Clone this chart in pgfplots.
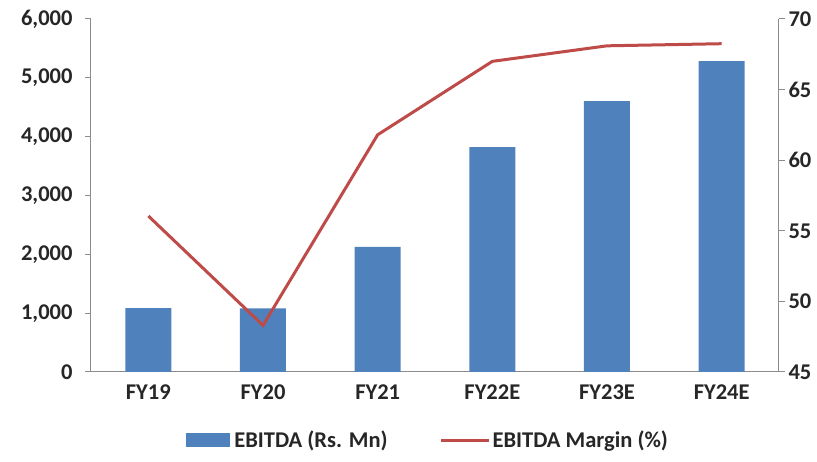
\documentclass[border=0pt]{standalone}
\usepackage{fontspec}
\setmainfont{Carlito}
\usepackage{pgfplots}
\pgfplotsset{compat=1.18}
\definecolor{barblue}{HTML}{4F81BD}
\definecolor{linered}{HTML}{BE4B48}
\definecolor{axgray}{HTML}{8C8C8C}
\definecolor{txt}{HTML}{262626}
\begin{document}
\begin{tikzpicture}
\pgfplotsset{
 base/.style={width=688pt,height=353pt,scale only axis, xmin=-0.5,xmax=5.5,
   axis line style={axgray, line width=1pt}, tick style={axgray, line width=1pt},
   ticklabel style={font=\fontsize{22.5}{24}\selectfont\bfseries, text=txt},
   /pgf/number format/assume math mode=true, major tick length=6pt, tick align=outside}
}
\begin{axis}[base, axis x line*=bottom, axis y line*=left, ymin=0, ymax=6000,
  ytick={0,1000,...,6000}, xtick={0,...,5},
  xticklabels={FY19,FY20,FY21,FY22E,FY23E,FY24E},
  x tick style={draw=none},
  xticklabel style={yshift=-3pt},
  scaled y ticks=false, yticklabel style={/pgf/number format/1000 sep={,}, xshift=-9pt},
  ybar, bar width=46pt,
  legend columns=2,
  legend style={at={(axis description cs:0.49,-0.193)}, anchor=center, draw=none,
    font=\fontsize{22.5}{24}\selectfont\bfseries, text=txt,
    /tikz/every even column/.append style={column sep=50pt}},
  legend cell align=left]
\addplot[fill=barblue, draw=none,
  legend image code/.code={\fill[barblue] (0pt,-7pt) rectangle (44pt,7pt);}]
  coordinates {(0,1085) (1,1080) (2,2125) (3,3824) (4,4606) (5,5286)};
\addlegendentry{\hspace{2pt}EBITDA (Rs. Mn)}
\addlegendimage{legend image code/.code={\draw[linered, line width=3pt] (0pt,0pt) -- (48pt,0pt);}}
\addlegendentry{EBITDA Margin (\%)}
\end{axis}
\begin{axis}[base, axis x line=none, axis y line*=right, ymin=45, ymax=70,
  ytick={45,50,...,70}]
\addplot[linered, line width=3pt, mark=none]
  coordinates {(0,56.05) (1,48.3) (2,61.8) (3,67.0) (4,68.1) (5,68.25)};
\end{axis}
\pgfresetboundingbox
\useasboundingbox (-91pt,-90pt) rectangle (726pt,372pt);
\end{tikzpicture}
\end{document}
